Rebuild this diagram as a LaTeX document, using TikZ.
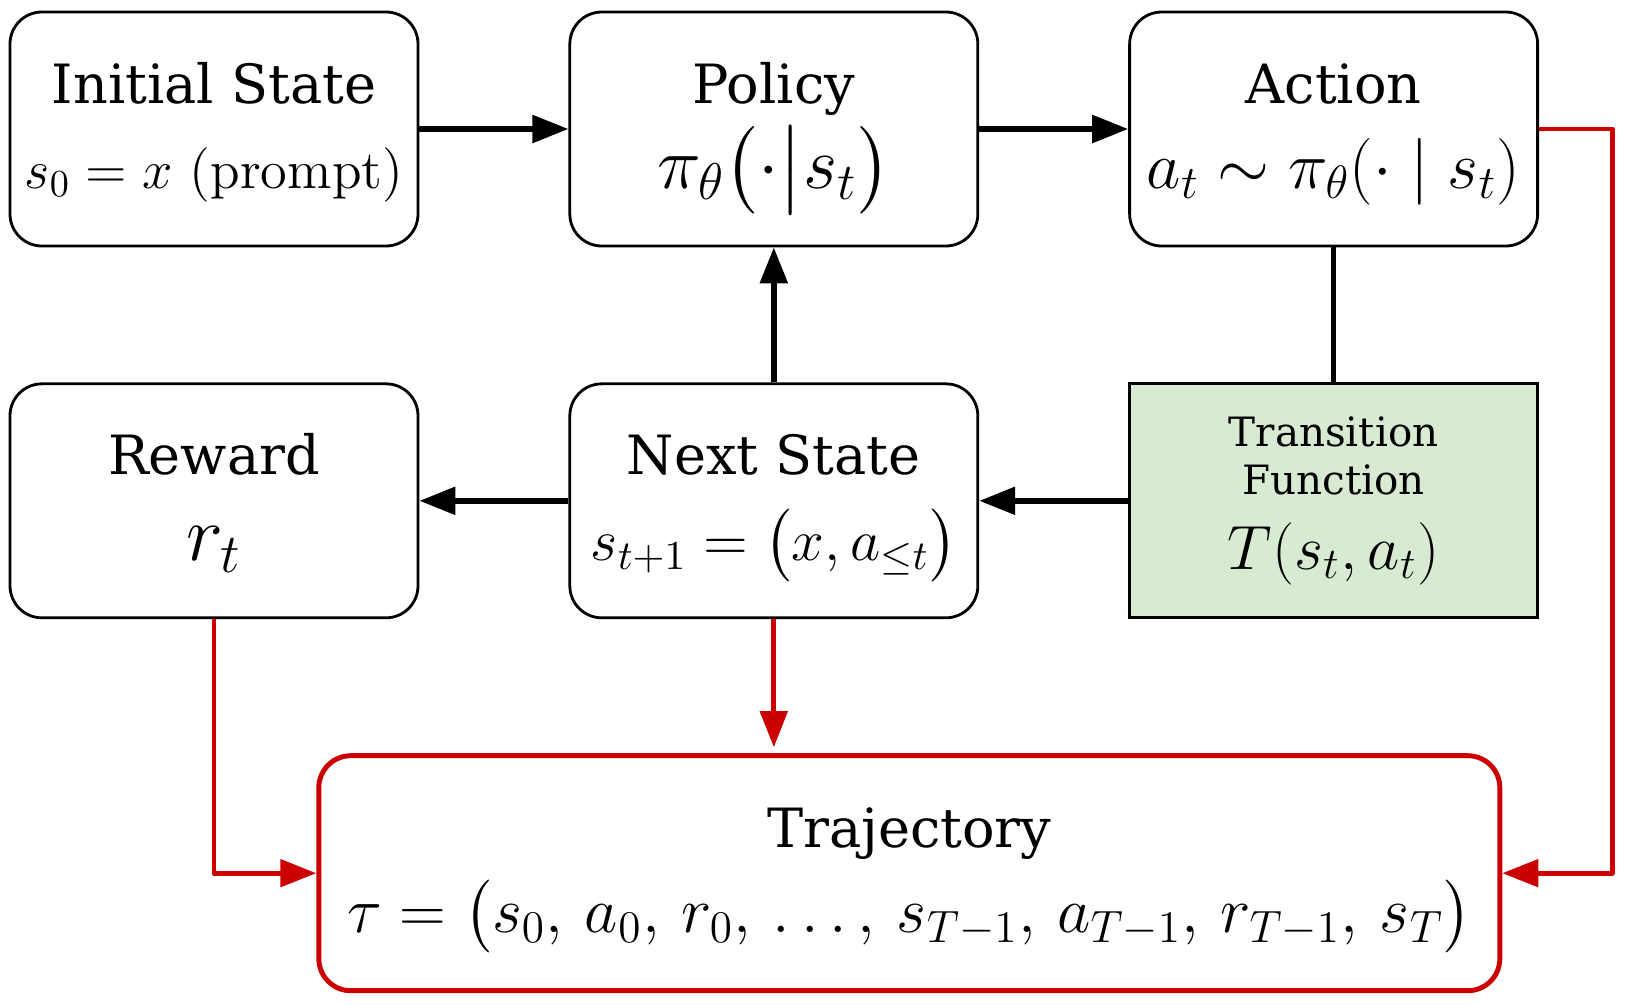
\RequirePackage{fix-cm}
\documentclass[tikz,border=0pt]{standalone}
\usepackage{amsmath}
\usepackage[no-math]{fontspec}
\setmainfont{DejaVu Serif}
\usetikzlibrary{arrows.meta, positioning}
\definecolor{trajred}{HTML}{CC0000}
\definecolor{transgreen}{HTML}{D9EAD3}
\newcommand{\msz}[2]{{\fontsize{#1}{#1}\selectfont$#2$}}
\newcommand{\tline}[1]{\rule{0pt}{11.8pt}#1}
\newcommand{\mline}[3][2.2pt]{\smash{\msz{#2}{#3}}\rule[-#1]{0pt}{#1}}

\begin{document}
\begin{tikzpicture}[
        node distance=1.35cm and 1.49cm,
        >={Triangle[length=3.6mm, width=2.7mm]},
        box/.style={
            rectangle,
            draw,
            line width=0.8pt,
            rounded corners=3.2mm,
            minimum width=4.08cm,
            minimum height=2.34cm,
            inner sep=0pt,
            align=center,
            font=\fontsize{15.4}{18}\selectfont
        },
        transbox/.style={
            box,
            rounded corners=0pt,
            fill=transgreen,
            font=\fontsize{11.5}{13.7}\selectfont
        },
        trajbox/.style={
            box,
            draw=trajred,
            line width=1.4pt,
            minimum width=11.81cm,
            minimum height=2.35cm
        },
        flow/.style={->, line width=1.6pt},
        redflow/.style={->, draw=trajred, line width=1.4pt, line join=round}
    ]
    \useasboundingbox (0,0) rectangle (16.26,-10.04);

    % Nodi
    \node[box] (init) at (2.14,-1.29) {\tline{Initial State}\\[6.4pt]\mline{15.5}{s_0 = x\ \mathrm{(prompt)}}};
    \node[box, right=of init] (policy) {\tline{Policy}\\[6.4pt]\mline{21}{\pi_\theta\big({\cdot}\big|s_t\big)}};
    \node[box, right=of policy] (action) {\tline{Action}\\[6.4pt]\mline{19}{a_t \sim \pi_\theta(\cdot \mid s_t)}};
    \node[box, below=of init] (reward) {\tline{Reward}\\[6.4pt]\mline{22.4}{r_t}};
    \node[box, below=of policy] (next) {\tline{Next State}\\[6.4pt]\mline{16.7}{s_{t+1} = \big(x, a_{\leq t}\big)}};
    \node[transbox, below=of action] (trans) {Transition\\Function\\[7.6pt]\mline[4.6pt]{17.8}{T(s_t, a_t)}};
    \node[trajbox, below=1.34cm of next, xshift=1.355cm] (traj) {\tline{Trajectory}\\[6.4pt]\mline{18.4}{\tau = \big(s_0,\, a_0,\, r_0,\, \ldots,\, s_{T-1},\, a_{T-1},\, r_{T-1},\, s_T\big)}};

    % Frecce
    \draw[flow] (init) -- (policy);
    \draw[flow] (policy) -- (action);
    \draw[line width=1.6pt] (action) -- (trans);
    \draw[flow] (trans) -- (next);
    \draw[flow] (next) -- (reward);
    \draw[flow] (next) -- (policy);
    \draw[redflow, shorten >=0.6mm] (next) -- (next |- traj.north);
    \draw[redflow] (reward) |- (traj);
    \draw[redflow] (action.east) -- ++(0.73,0) |- (traj.east);
\end{tikzpicture}
\end{document}
